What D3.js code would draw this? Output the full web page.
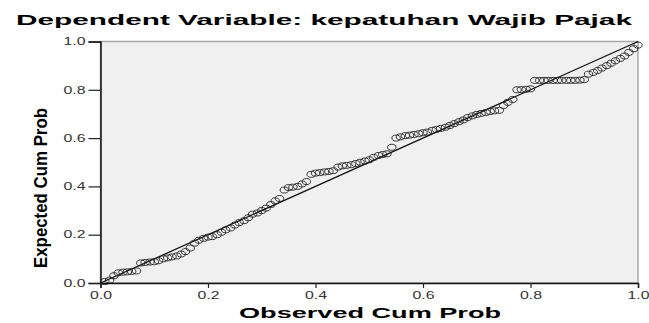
<!DOCTYPE html>
<html>
<head>
<meta charset="utf-8">
<script src="https://cdn.jsdelivr.net/npm/d3@7"></script>
<style>
  body { margin: 0; background: #fff; }
  svg { display: block; }
</style>
</head>
<body>
<div id="chart"></div>
<script>
// P-P plot of regression standardized residuals
const title = 'Dependent Variable: kepatuhan Wajib Pajak';
const xLabel = 'Observed Cum Prob';
const yLabel = 'Expected Cum Prob';
const tickValues = [0, 0.2, 0.4, 0.6, 0.8, 1.0];

// observed cumulative probability
const observed = [
  0.008, 0.017, 0.025, 0.033, 0.042, 0.050, 0.058, 0.067, 0.075, 0.083,
  0.092, 0.100, 0.108, 0.117, 0.125, 0.133, 0.142, 0.150, 0.158, 0.167,
  0.175, 0.183, 0.192, 0.200, 0.208, 0.217, 0.225, 0.233, 0.242, 0.250,
  0.258, 0.267, 0.275, 0.283, 0.292, 0.300, 0.308, 0.317, 0.325, 0.333,
  0.342, 0.350, 0.358, 0.367, 0.375, 0.383, 0.392, 0.400, 0.408, 0.417,
  0.425, 0.433, 0.442, 0.450, 0.458, 0.467, 0.475, 0.483, 0.492, 0.500,
  0.508, 0.517, 0.525, 0.533, 0.542, 0.550, 0.558, 0.567, 0.575, 0.583,
  0.592, 0.600, 0.608, 0.617, 0.625, 0.633, 0.642, 0.650, 0.658, 0.667,
  0.675, 0.683, 0.692, 0.700, 0.708, 0.717, 0.725, 0.733, 0.742, 0.750,
  0.758, 0.767, 0.775, 0.783, 0.792, 0.800, 0.808, 0.817, 0.825, 0.833,
  0.842, 0.850, 0.858, 0.867, 0.875, 0.883, 0.892, 0.900, 0.908, 0.917,
  0.925, 0.933, 0.942, 0.950, 0.958, 0.967, 0.975, 0.983, 0.992, 1.000
];

// expected cumulative probability
const expected = [
  0.006, 0.012, 0.030, 0.042, 0.045, 0.046, 0.048, 0.050, 0.083, 0.085,
  0.087, 0.088, 0.092, 0.100, 0.104, 0.108, 0.112, 0.120, 0.130, 0.145,
  0.165, 0.177, 0.185, 0.190, 0.192, 0.200, 0.210, 0.220, 0.228, 0.240,
  0.250, 0.258, 0.270, 0.285, 0.290, 0.300, 0.310, 0.325, 0.340, 0.350,
  0.385, 0.395, 0.397, 0.400, 0.410, 0.420, 0.450, 0.455, 0.457, 0.460,
  0.462, 0.465, 0.480, 0.485, 0.487, 0.490, 0.495, 0.500, 0.505, 0.510,
  0.520, 0.528, 0.532, 0.535, 0.562, 0.600, 0.605, 0.610, 0.612, 0.615,
  0.618, 0.622, 0.625, 0.632, 0.636, 0.640, 0.645, 0.652, 0.660, 0.668,
  0.675, 0.685, 0.692, 0.698, 0.702, 0.706, 0.710, 0.713, 0.715, 0.735,
  0.748, 0.760, 0.800, 0.801, 0.802, 0.804, 0.839, 0.839, 0.839, 0.839,
  0.839, 0.839, 0.839, 0.839, 0.839, 0.839, 0.840, 0.842, 0.865, 0.872,
  0.880, 0.890, 0.900, 0.910, 0.920, 0.930, 0.940, 0.955, 0.970, 0.985
];

const width = 649, height = 323;
const plot = { left: 100.5, right: 638, top: 41.5, bottom: 283 };

const svg = d3.select('#chart').append('svg')
  .attr('width', width)
  .attr('height', height);

const x = d3.scaleLinear().domain([0, 1]).range([plot.left, plot.right]);
const y = d3.scaleLinear().domain([0, 1]).range([plot.bottom, plot.top]);

// plot background + light frame
svg.append('rect')
  .attr('x', plot.left).attr('y', plot.top)
  .attr('width', plot.right - plot.left)
  .attr('height', plot.bottom - plot.top)
  .attr('fill', '#f0f0f0')
  .attr('stroke', '#a8a8a8')
  .attr('stroke-width', 1.5);

// diagonal reference line
svg.append('line')
  .attr('x1', x(0)).attr('y1', y(0))
  .attr('x2', x(1)).attr('y2', y(1))
  .attr('stroke', '#111')
  .attr('stroke-width', 1.3);

// points (picture is stretched sideways, so circles look like ellipses)
svg.append('g').selectAll('ellipse')
  .data(d3.zip(observed, expected))
  .enter()
  .append('ellipse')
  .attr('cx', d => x(d[0]))
  .attr('cy', d => y(d[1]))
  .attr('rx', 4.2)
  .attr('ry', 3)
  .attr('fill', 'none')
  .attr('stroke', '#222')
  .attr('stroke-width', 0.9);

const fmt = d3.format('.1f');

const yAxis = svg.append('g')
  .attr('transform', `translate(${plot.left},0)`)
  .call(d3.axisLeft(y).tickValues(tickValues).tickFormat(fmt).tickSize(12).tickPadding(3));

const xAxis = svg.append('g')
  .attr('transform', `translate(0,${plot.bottom})`)
  .call(d3.axisBottom(x).tickValues(tickValues).tickFormat(fmt).tickSize(5).tickPadding(4));

[yAxis, xAxis].forEach(g => {
  g.select('.domain').attr('stroke', '#111').attr('stroke-width', 1.5);
  g.selectAll('.tick line').attr('stroke', '#222').attr('stroke-width', 1.2);
  g.selectAll('.tick text')
    .attr('font-family', 'Liberation Sans, Arial, sans-serif')
    .attr('font-size', 10)
    .attr('fill', '#333')
    .attr('textLength', 22)
    .attr('lengthAdjust', 'spacingAndGlyphs');
});

// title
svg.append('text')
  .attr('x', 16).attr('y', 25)
  .attr('font-family', 'Liberation Sans, Arial, sans-serif')
  .attr('font-weight', 'bold')
  .attr('font-size', 14.5)
  .attr('textLength', 616)
  .attr('lengthAdjust', 'spacingAndGlyphs')
  .text(title);

// x axis title
svg.append('text')
  .attr('x', 370).attr('y', 318)
  .attr('text-anchor', 'middle')
  .attr('font-family', 'Liberation Sans, Arial, sans-serif')
  .attr('font-weight', 'bold')
  .attr('font-size', 15)
  .attr('textLength', 262)
  .attr('lengthAdjust', 'spacingAndGlyphs')
  .text(xLabel);

// y axis title (narrow, rotated)
svg.append('text')
  .attr('transform', 'translate(47,188) rotate(-90)')
  .attr('text-anchor', 'middle')
  .attr('font-family', 'Liberation Sans Narrow, Arial Narrow, Liberation Sans, sans-serif')
  .attr('font-weight', 'bold')
  .attr('font-size', 18.5)
  .attr('textLength', 160)
  .attr('lengthAdjust', 'spacingAndGlyphs')
  .text(yLabel);
</script>
</body>
</html>
